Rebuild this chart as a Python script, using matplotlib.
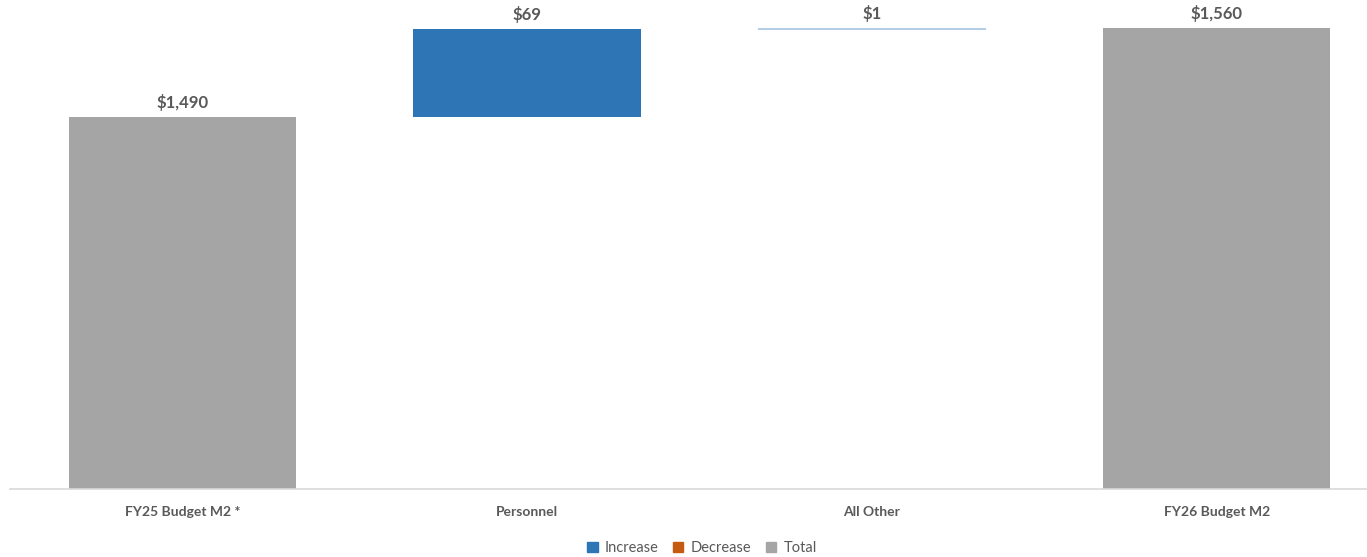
import numpy as np
import matplotlib.pyplot as plt
from matplotlib.patches import Patch

plt.rcParams['font.family'] = ['Lato', 'DejaVu Sans']

# ── Data ────────────────────────────────────────
categories = ['FY25 Budget M2 *', 'Personnel', 'All Other', 'FY26 Budget M2']
values = [1490, 69, 1, 1560]
kinds = ['total', 'increase', 'increase', 'total']
value_labels = ['$1,490', '$69', '$1', '$1,560']

colors = {'increase': '#2e75b6', 'decrease': '#c55a11', 'total': '#a5a5a5'}
text_color = '#595959'

# ── Waterfall geometry ─────────────────────────
bottoms, heights = [], []
running = 0
for v, k in zip(values, kinds):
    if k == 'total':
        bottoms.append(0)
        heights.append(v)
        running = v
    else:
        bottoms.append(running)
        heights.append(v)
        running += v

fig = plt.figure(figsize=(13.67, 5.57), dpi=100)
ax = fig.add_axes([10 / 1367, (557 - 489) / 557, 1357 / 1367, 489 / 557])

x = np.arange(len(categories))
for i in range(len(categories)):
    c = colors[kinds[i]]
    h = heights[i]
    if kinds[i] != 'total' and h < 5:
        # tiny step shows up as a faint line
        ax.bar(x[i], 1.6, bottom=bottoms[i] + h - 1.6, width=0.66, color='#b5cce6', linewidth=0)
    else:
        ax.bar(x[i], h, bottom=bottoms[i], width=0.66, color=c, linewidth=0)
    ax.text(x[i], bottoms[i] + h + 4.5, value_labels[i], ha='center', va='bottom',
            fontsize=12, fontweight='bold', color=text_color)

ax.set_xlim(-0.5, 3.436)
ax.set_ylim(1197, 1582)
ax.set_xticks(x)
ax.set_xticklabels(categories, fontsize=10, fontweight='bold', color=text_color)
ax.tick_params(axis='x', length=0, pad=12)
ax.set_yticks([])
for s in ['top', 'right', 'left']:
    ax.spines[s].set_visible(False)
ax.spines['bottom'].set_color('#d9d9d9')
ax.spines['bottom'].set_linewidth(1.2)

handles = [Patch(color=colors['increase'], label='Increase'),
           Patch(color=colors['decrease'], label='Decrease'),
           Patch(color=colors['total'], label='Total')]
leg = fig.legend(handles=handles, loc='center', bbox_to_anchor=(702 / 1367, 1 - 548 / 557),
                 ncol=3, frameon=False, fontsize=10.5, handlelength=0.7, handleheight=0.7,
                 handletextpad=0.5, columnspacing=1.0)
for t in leg.get_texts():
    t.set_color(text_color)

fig.savefig('out.png', dpi=100)
